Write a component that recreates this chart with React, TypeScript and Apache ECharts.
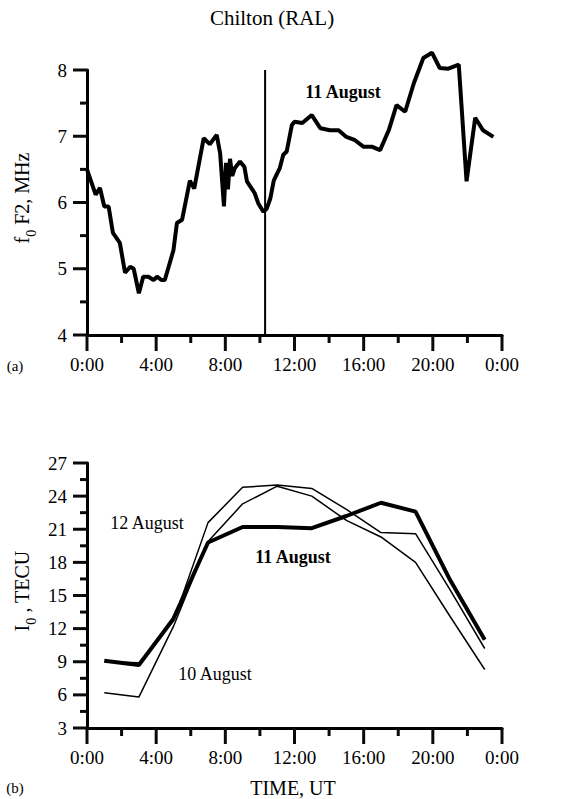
import React, { useEffect, useRef } from "react";
import * as echarts from "echarts";

// Panel (a): foF2 at Chilton, 11 August (time in UT hours, value in MHz)
const fofTime = [0, 0.5, 0.75, 1.0, 1.25, 1.5, 1.9, 2.2, 2.5, 2.7, 3.0, 3.25, 3.55, 3.85, 4.05, 4.3, 4.5, 5.0, 5.2, 5.5, 5.95, 6.2, 6.75, 7.1, 7.5, 7.7, 7.92, 8.04, 8.15, 8.27, 8.4, 8.55, 8.85, 9.1, 9.25, 9.45, 9.7, 9.9, 10.2, 10.4, 10.6, 10.8, 11.0, 11.15, 11.35, 11.55, 11.85, 12.0, 12.45, 13.0, 13.5, 14.05, 14.55, 15.0, 15.5, 16.0, 16.5, 16.95, 17.45, 17.9, 18.4, 18.9, 19.45, 19.95, 20.4, 20.9, 21.5, 21.95, 22.45, 22.9, 23.5];
const fofValue = [6.5, 6.12, 6.22, 5.94, 5.94, 5.54, 5.39, 4.94, 5.03, 5.0, 4.63, 4.88, 4.88, 4.83, 4.88, 4.83, 4.83, 5.28, 5.69, 5.74, 6.33, 6.21, 6.97, 6.88, 7.02, 6.74, 5.94, 6.6, 6.2, 6.66, 6.4, 6.52, 6.62, 6.54, 6.32, 6.24, 6.14, 5.99, 5.86, 5.91, 6.06, 6.33, 6.44, 6.52, 6.72, 6.77, 7.17, 7.22, 7.2, 7.32, 7.12, 7.09, 7.09, 6.99, 6.94, 6.84, 6.84, 6.79, 7.09, 7.47, 7.37, 7.8, 8.18, 8.26, 8.03, 8.02, 8.08, 6.32, 7.28, 7.09, 6.99];
const eventTime = 10.3;

// Panel (b): TEC I0 (TECU)
const tecTime = [1, 3, 5, 7, 9, 11, 13, 15, 17, 19, 21, 23];
const tecAug11 = [9.1, 8.7, 12.9, 19.8, 21.2, 21.2, 21.1, 22.2, 23.4, 22.6, 16.4, 11.0];
const tecAug12 = [9.0, 8.9, 12.7, 21.6, 24.8, 25.0, 24.7, 22.8, 20.7, 20.6, 15.5, 10.2];
const tecAug10 = [6.2, 5.8, 12.2, 19.9, 23.3, 24.9, 24.0, 21.8, 20.3, 18.0, 13.1, 8.3];

// Tick positions
const timeMajorTicks = [0, 4, 8, 12, 16, 20, 24];
const timeMinorTicks = [2, 6, 10, 14, 18, 22];
const fofMajorTicks = [4, 5, 6, 7, 8];
const fofMinorTicks = [4.5, 5.5, 6.5, 7.5];
const tecMajorTicks = [3, 6, 9, 12, 15, 18, 21, 24, 27];
const tecMinorTicks = [4.5, 7.5, 10.5, 13.5, 16.5, 19.5, 22.5, 25.5];

const FONT = "'Liberation Serif', 'Times New Roman', serif";
const INK = "#0a0a0a";

const pairs = (xs: number[], ys: number[]) => xs.map((x, i) => [x, ys[i]]);

const xAxisCfg = (gridIndex: number) => ({
  gridIndex,
  type: "value",
  min: 0,
  max: 24,
  interval: 4,
  axisLine: { show: true, onZero: false, lineStyle: { color: "#000", width: 3 } },
  axisTick: { show: false },
  minorTick: { show: false },
  splitLine: { show: false },
  axisLabel: {
    fontFamily: FONT,
    fontSize: 19,
    color: "#000",
    margin: 20,
    formatter: (v: number) => `${Math.round(v) % 24}:00`,
  },
});

const yAxisCfg = (gridIndex: number, min: number, max: number, interval: number) => ({
  gridIndex,
  type: "value",
  min,
  max,
  interval,
  axisLine: { show: true, onZero: false, lineStyle: { color: "#000", width: 3 } },
  axisTick: { show: false },
  minorTick: { show: false },
  splitLine: { show: false },
  axisLabel: { fontFamily: FONT, fontSize: 19, color: "#000", margin: 20 },
});

// Ticks drawn through the axes' scales with a custom series
const tickSeries = (idx: number, dir: "x" | "y", ticks: number[], base: number, len: number) => ({
  type: "custom",
  xAxisIndex: idx,
  yAxisIndex: idx,
  clip: false,
  silent: true,
  z: 5,
  data: ticks.map((t) => (dir === "x" ? [t, base] : [base, t])),
  renderItem: (_params: any, api: any) => {
    const p = api.coord([api.value(0), api.value(1)]);
    const shape =
      dir === "x"
        ? { x1: p[0], y1: p[1], x2: p[0], y2: p[1] + len }
        : { x1: p[0], y1: p[1], x2: p[0] - len, y2: p[1] };
    return { type: "line", shape, style: { stroke: INK, lineWidth: 3 } };
  },
});

const txt = (x: number, y: number, text: string, size: number, bold = false, align = "center") => ({
  type: "text",
  x,
  y,
  style: {
    text,
    fontFamily: FONT,
    fontSize: size,
    fontWeight: bold ? "bold" : "normal",
    fill: "#000",
    align,
    verticalAlign: "middle",
  },
});

const richLabel = (x: number, y: number, main1: string, sub: string, main2: string) => ({
  type: "text",
  x,
  y,
  rotation: Math.PI / 2,
  style: {
    text: `{m|${main1}}{s|${sub}}{m|${main2}}`,
    align: "center",
    verticalAlign: "middle",
    fill: "#000",
    rich: {
      m: { fontFamily: FONT, fontSize: 20, lineHeight: 22, fill: "#000", verticalAlign: "top" },
      s: { fontFamily: FONT, fontSize: 14, lineHeight: 14, fill: "#000", padding: [12, 0, 0, 0], verticalAlign: "top" },
    },
  },
});

export default function App() {
  const ref = useRef<HTMLDivElement>(null);
  useEffect(() => {
    if (!ref.current) return;
    const chart = echarts.init(ref.current, null, { renderer: "svg" });
    chart.setOption({
      animation: false,
      backgroundColor: "#fff",
      grid: [
        { left: 87, top: 70, width: 415, height: 265 },
        { left: 87, top: 463, width: 415, height: 265 },
      ],
      xAxis: [xAxisCfg(0), xAxisCfg(1)],
      yAxis: [yAxisCfg(0, 4, 8, 1), yAxisCfg(1, 3, 27, 3)],
      series: [
        tickSeries(0, "x", timeMajorTicks, 4, 16),
        tickSeries(0, "x", timeMinorTicks, 4, 8),
        tickSeries(0, "y", fofMajorTicks, 0, 14),
        tickSeries(0, "y", fofMinorTicks, 0, 7),
        tickSeries(1, "x", timeMajorTicks, 3, 16),
        tickSeries(1, "x", timeMinorTicks, 3, 8),
        tickSeries(1, "y", tecMajorTicks, 0, 14),
        tickSeries(1, "y", tecMinorTicks, 0, 7),
        {
          type: "line",
          xAxisIndex: 0,
          yAxisIndex: 0,
          data: pairs(fofTime, fofValue),
          showSymbol: false,
          clip: false,
          lineStyle: { color: "#000", width: 4 },
        },
        {
          type: "line",
          xAxisIndex: 0,
          yAxisIndex: 0,
          data: [[eventTime, 4], [eventTime, 8]],
          showSymbol: false,
          lineStyle: { color: "#000", width: 2 },
        },
        {
          type: "line",
          xAxisIndex: 1,
          yAxisIndex: 1,
          data: pairs(tecTime, tecAug10),
          showSymbol: false,
          lineStyle: { color: "#000", width: 1.5 },
        },
        {
          type: "line",
          xAxisIndex: 1,
          yAxisIndex: 1,
          data: pairs(tecTime, tecAug12),
          showSymbol: false,
          lineStyle: { color: "#000", width: 1.5 },
        },
        {
          type: "line",
          xAxisIndex: 1,
          yAxisIndex: 1,
          data: pairs(tecTime, tecAug11),
          showSymbol: false,
          lineStyle: { color: "#000", width: 4 },
        },
      ],
      graphic: [
        txt(272, 18, "Chilton (RAL)", 21),
        txt(343, 92, "11 August", 18, true),
        txt(15, 366, "(a)", 15),
        richLabel(23, 198, "f", "0", " F2, MHz"),
        txt(147, 523, "12 August", 18),
        txt(293, 557, "11 August", 18, true),
        txt(215, 674, "10 August", 18),
        txt(15, 788, "(b)", 15),
        txt(293, 788, "TIME, UT", 20),
        richLabel(23, 591, "I", "0", " , TECU"),
      ],
    });
    return () => chart.dispose();
  }, []);
  return <div ref={ref} style={{ width: 571, height: 799, position: "absolute", left: 0, top: 0 }} />;
}
